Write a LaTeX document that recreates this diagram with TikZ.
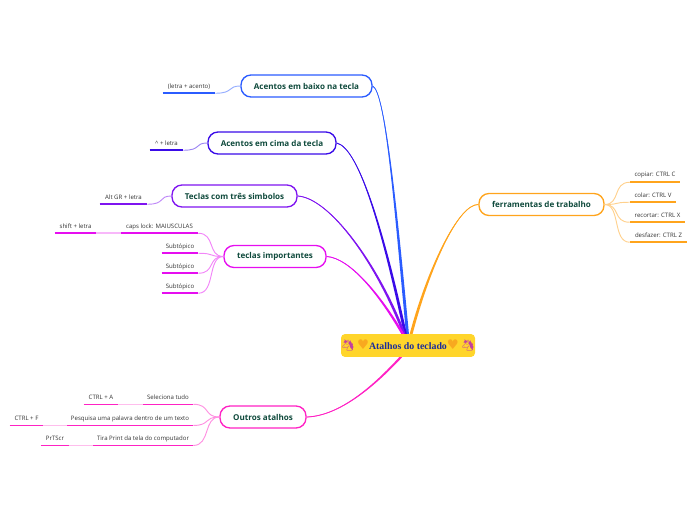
\documentclass[tikz,border=0pt]{standalone}
\usepackage{fontspec}
\usetikzlibrary{calc}
\setmainfont{Open Sans}
\newfontfamily\emojifont{Noto Emoji}
\newfontfamily\symfont{DejaVu Sans}
\newfontfamily\titlefont{Liberation Serif}
\definecolor{cblue}{HTML}{2B5CFF}
\definecolor{cindigo}{HTML}{3A0BE8}
\definecolor{cviolet}{HTML}{7F14F0}
\definecolor{cmag}{HTML}{E60EF0}
\definecolor{cpink}{HTML}{FF22C4}
\definecolor{corange}{HTML}{FFA41C}
\definecolor{cgreen}{HTML}{0F4A3C}
\definecolor{cgold}{HTML}{FFD52B}
\definecolor{ctitle}{HTML}{1B2C9C}
\definecolor{cheart}{HTML}{F8A91F}
\definecolor{cuni}{HTML}{C2409E}
\tikzset{
  topic/.style={draw=#1,line width=1pt,rounded corners=7.5pt,fill=white,inner sep=0pt,
     text=cgreen,font=\fontsize{6.05}{7}\selectfont\bfseries,align=center,minimum height=16.5pt},
  rootbox/.style={fill=cgold,rounded corners=3pt,inner sep=0pt,minimum width=100.5pt,minimum height=17.2pt},
  leaftext/.style={inner sep=0pt,text=black!80,font=\fontsize{4.55}{5.5}\selectfont},
  subline/.style={draw=#1!50,line width=.7pt},
  under/.style={draw=#1,line width=1.15pt},
  ext/.style={draw=#1!30,line width=1.15pt},
}
\newcommand{\heartmark}{\textcolor{cheart}{\symfont\fontsize{10}{10}\selectfont ♥}}
\newcommand{\unimark}{\textcolor{cuni}{\emojifont\fontsize{8.2}{9}\selectfont 🦄}}
% \leafnode{name}{x1}{x2}{y of underline}{text}{colour}
\newcommand{\leafnode}[6]{%
  \path let \n1={#2+(#3-#2)/2},\n2={#4-6.5},\n3={(#3-#2)*.75pt} in
    node[leaftext,minimum width=\n3,minimum height=9.75pt] (#1) at (\n1,\n2) {#5};
  \draw[under=#6] (#1.south west) -- (#1.south east);
}
% \taper{start}{c1}{c2}{end}{colour}{side}: connector that widens towards the root
\newcommand{\taper}[6]{%
  \draw[draw=#5,line width=.5pt] (#1) .. controls (#2) and (#3) .. (#4);
  \fill[#5] ([yshift=.3pt]#1) .. controls ([yshift=.3pt]#2) and ([xshift=#6*1.0pt]#3) .. ([xshift=#6*1.1pt]#4)
    -- ([xshift=-#6*1.1pt]#4) .. controls ([xshift=-#6*1.0pt]#3) and ([yshift=-.3pt]#2) .. ([yshift=-.3pt]#1) -- cycle;
}
\begin{document}
\begin{tikzpicture}[x=.75pt,y=-.75pt]
\useasboundingbox (0,0) rectangle (696,520);
% main topics
\node[topic=cblue,minimum width=98.25pt] (baixo) at (306.5,86) {Acentos em baixo na tecla};
\node[topic=cindigo,minimum width=96pt] (cima) at (272,143) {Acentos em cima da tecla};
\node[topic=cviolet,minimum width=93.75pt] (tres) at (234.5,196) {Teclas com três simbolos};
\node[topic=cmag,minimum width=76.5pt] (imp) at (275,256.5) {teclas importantes};
\node[topic=cpink,minimum width=64.5pt] (outros) at (263,417) {Outros atalhos};
\node[topic=corange,minimum width=93.75pt] (ferr) at (541.5,204.5) {ferramentas de trabalho};
\node[rootbox] (root) at (408,345.5) {\unimark\,\heartmark{\titlefont\bfseries\fontsize{7.4}{9}\selectfont\textcolor{ctitle}{Atalhos do teclado}}\heartmark\,\unimark};
% main connectors
\coordinate (rbaixo) at ([xshift=-.4pt]root.north);
\coordinate (rcima) at ([xshift=-2pt]root.north);
\coordinate (rtres) at ([xshift=-3pt]root.north);
\coordinate (rimp) at ([xshift=-4pt]root.north);
\coordinate (rferr) at ([xshift=2.4pt]root.north);
\coordinate (routros) at ([xshift=-5.5pt]root.south);
\taper{baixo.east}{385,92}{395,200}{rbaixo}{cblue}{1}
\taper{cima.east}{360,148}{385,240}{rcima}{cindigo}{1}
\taper{tres.east}{330,198}{378,265}{rtres}{cviolet}{1}
\taper{imp.east}{350,258}{380,295}{rimp}{cmag}{1}
\taper{ferr.west}{458,204}{428,270}{rferr}{corange}{-1}
\taper{outros.east}{340,416}{375,385}{routros}{cpink}{-1}
% leaves
\leafnode{l1}{163}{215}{93}{(letra + acento)}{cblue}
\draw[subline=cblue] (l1.south east) .. controls +(14pt,0pt) and ([xshift=-10pt]baixo.west) .. (baixo.west);
\leafnode{l2}{150}{183}{150}{\^{} + letra}{cindigo}
\draw[subline=cindigo] (l2.south east) .. controls +(14pt,0pt) and ([xshift=-10pt]cima.west) .. (cima.west);
\leafnode{l3}{100}{147}{204}{Alt GR + letra}{cviolet}
\draw[subline=cviolet] (l3.south east) .. controls +(14pt,0pt) and ([xshift=-10pt]tres.west) .. (tres.west);
% teclas importantes
\leafnode{caps}{121}{198}{233}{caps lock: MAIUSCULAS}{cmag}
\leafnode{shift}{55}{96}{233}{shift + letra}{cmag}
\draw[ext=cmag] (shift.south east) -- (caps.south west);
\leafnode{s1}{162}{198}{253}{Subtópico}{cmag}
\leafnode{s2}{162}{198}{273}{Subtópico}{cmag}
\leafnode{s3}{162}{198}{293}{Subtópico}{cmag}
\foreach \n in {caps,s1,s2,s3}
  \draw[subline=cmag] (\n.south east) .. controls +(13pt,0pt) and ([xshift=-12pt]imp.west) .. (imp.west);
% outros atalhos
\leafnode{sel}{143}{193}{404}{Seleciona tudo}{cpink}
\leafnode{ctrla}{84}{118}{404}{CTRL + A}{cpink}
\draw[ext=cpink] (ctrla.south east) -- (sel.south west);
\leafnode{ctrlf}{10}{43}{425.2}{CTRL + F}{cpink}
\leafnode{search}{67}{193}{425.2}{Pesquisa uma palavra dentro de um texto}{cpink}
\draw[ext=cpink] (ctrlf.south east) -- (search.south west);
\leafnode{prtsc}{41}{69}{445.2}{PrTScr}{cpink}
\leafnode{tira}{93}{193}{445.2}{Tira Print da tela do computador}{cpink}
\draw[ext=cpink] (prtsc.south east) -- (tira.south west);
\foreach \n in {sel,search,tira}
  \draw[subline=cpink] (\n.south east) .. controls +(13pt,0pt) and ([xshift=-12pt]outros.west) .. (outros.west);
% ferramentas
\leafnode{f1}{630}{680}{182}{copiar: CTRL C}{corange}
\leafnode{f2}{630}{676}{202}{colar: CTRL V}{corange}
\leafnode{f3}{630}{685}{222}{recortar: CTRL X}{corange}
\leafnode{f4}{630}{687}{242}{desfazer: CTRL Z}{corange}
\foreach \n in {f1,f2,f3,f4}
  \draw[subline=corange] (\n.south west) .. controls +(-13pt,0pt) and ([xshift=12pt]ferr.east) .. (ferr.east);
\end{tikzpicture}
\end{document}
